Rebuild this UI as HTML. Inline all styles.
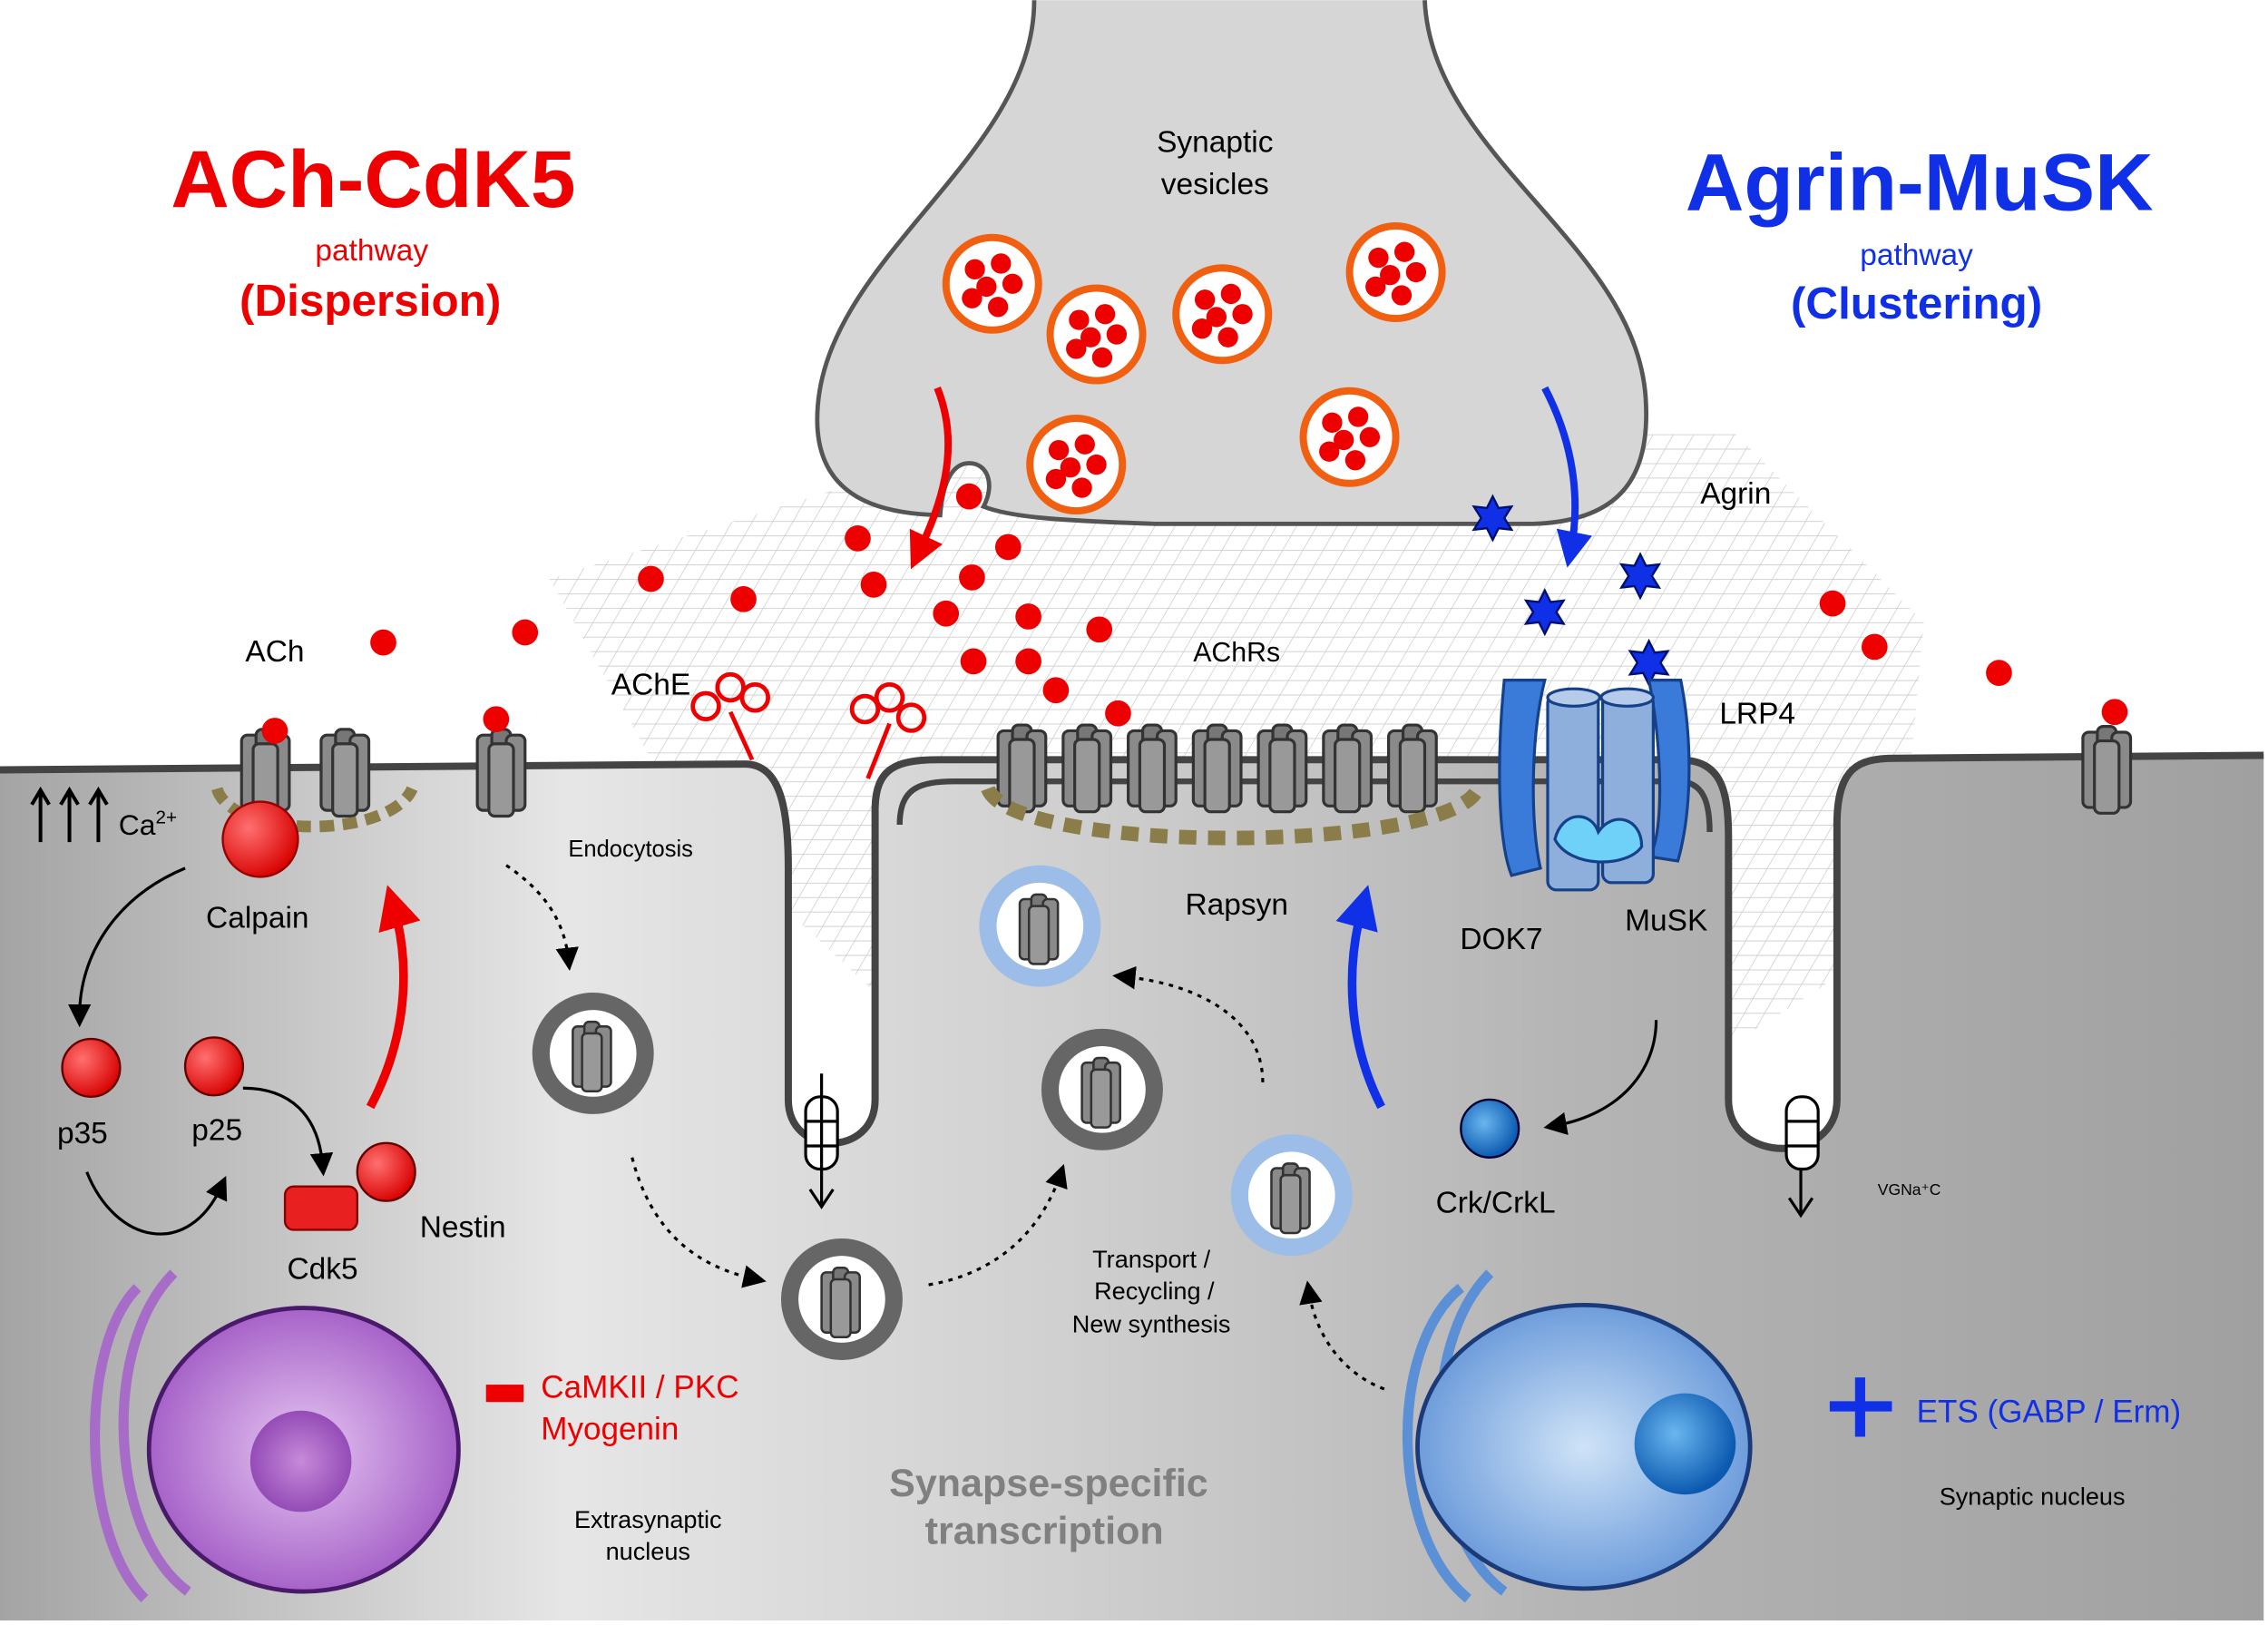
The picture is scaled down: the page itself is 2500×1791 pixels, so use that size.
<!DOCTYPE html>
<html><head><meta charset="utf-8"><style>
html,body{margin:0;padding:0;background:#fff}
svg{display:block}
text{font-family:"Liberation Sans",Arial,sans-serif}
</style></head><body>
<svg width="2500" height="1791" viewBox="0 0 1568 1123" xmlns="http://www.w3.org/2000/svg">
<defs>
<linearGradient id="cell" x1="0" y1="0" x2="1" y2="0">
<stop offset="0" stop-color="#a4a4a4"/><stop offset="0.25" stop-color="#e6e6e6"/><stop offset="0.45" stop-color="#d2d2d2"/><stop offset="0.7" stop-color="#b4b4b4"/><stop offset="1" stop-color="#a0a0a0"/>
</linearGradient>
<radialGradient id="red" cx="0.35" cy="0.35" r="0.7"><stop offset="0" stop-color="#ff7070"/><stop offset="1" stop-color="#d80000"/></radialGradient>
<radialGradient id="purp" cx="0.5" cy="0.5" r="0.6"><stop offset="0" stop-color="#e6c6f2"/><stop offset="1" stop-color="#9a4fc0"/></radialGradient>
<radialGradient id="purpIn" cx="0.5" cy="0.5" r="0.6"><stop offset="0" stop-color="#c78ad9"/><stop offset="1" stop-color="#8a3fb0"/></radialGradient>
<radialGradient id="blu" cx="0.5" cy="0.5" r="0.6"><stop offset="0" stop-color="#cfe3f7"/><stop offset="1" stop-color="#5b8fd6"/></radialGradient>
<radialGradient id="bluIn" cx="0.4" cy="0.4" r="0.6"><stop offset="0" stop-color="#6ab6f0"/><stop offset="1" stop-color="#0c5ab0"/></radialGradient>
<pattern id="grid" width="14" height="10" patternUnits="userSpaceOnUse" patternTransform="skewX(-30)">
<path d="M0 0H14M0 0V10" stroke="#bdbdbd" stroke-width="1.2" fill="none"/></pattern>
<g id="r">
<rect x="0" y="8" width="13" height="52" rx="4" fill="#8a8a8a" stroke="#333" stroke-width="2"/>
<rect x="10" y="4" width="13" height="56" rx="4" fill="#777" stroke="#333" stroke-width="2"/>
<rect x="20" y="8" width="13" height="52" rx="4" fill="#8a8a8a" stroke="#333" stroke-width="2"/>
<rect x="8" y="14" width="17" height="50" rx="4" fill="#999" stroke="#333" stroke-width="2"/>
</g>
<g id="vd" fill="#e00"><circle cx="-12" cy="-10" r="7"/><circle cx="6" cy="-14" r="7"/><circle cx="-4" cy="2" r="7"/><circle cx="14" cy="0" r="7"/><circle cx="-14" cy="10" r="7"/><circle cx="4" cy="16" r="7"/></g>
<path id="st" d="M0,-15 L4,-7 L13,-8 L8,0 L13,8 L4,7 L0,15 L-4,7 L-13,8 L-8,0 L-13,-8 L-4,-7Z" fill="#1030e8" stroke="#001070" stroke-width="1.5"/>
<marker id="ab" markerWidth="8" markerHeight="8" refX="4" refY="4" orient="auto"><path d="M0,0L8,4L0,8z" fill="#000"/></marker>
<marker id="ar" markerWidth="5" markerHeight="5" refX="2.5" refY="2.5" orient="auto"><path d="M0,0L5,2.5L0,5z" fill="#e00"/></marker>
<marker id="abl" markerWidth="5" markerHeight="5" refX="2.5" refY="2.5" orient="auto"><path d="M0,0L5,2.5L0,5z" fill="#1030e8"/></marker>
</defs>

<path d="M380,400 L700,300 L1200,300 L1330,430 L1310,650 L1200,720 L620,700 L470,560 Z" fill="url(#grid)" opacity="0.7"/>

<path d="M0,532 L515,528 C540,528 545,560 545,600 L545,760 C545,800 605,800 605,760 L605,560 C605,530 620,525 650,525 L1160,525 C1190,525 1195,545 1195,580 L1195,760 C1195,805 1270,805 1270,760 L1270,570 C1270,530 1285,524 1310,524 L1565,522 L1565,1120 L0,1120 Z" fill="url(#cell)"/>
<path d="M0,532 L515,528 C540,528 545,560 545,600 L545,760 C545,800 605,800 605,760 L605,560 C605,530 620,525 650,525 L1160,525 C1190,525 1195,545 1195,580 L1195,760 C1195,805 1270,805 1270,760 L1270,570 C1270,530 1285,524 1310,524 L1565,522" fill="none" stroke="#444" stroke-width="5"/>
<path d="M622,570 C622,545 635,540 660,540 L1160,540 C1178,540 1182,555 1182,575" fill="none" stroke="#444" stroke-width="4"/>

<path d="M715,0 C715,110 565,180 565,290 C565,345 610,355 650,356 C652,330 660,320 670,320 C683,320 688,335 680,350 C700,358 740,360 800,362 L1060,362 C1120,360 1140,330 1138,280 C1135,170 990,110 985,0" fill="#d6d6d6" stroke="#555" stroke-width="3"/>

<g stroke="#f06010" stroke-width="5" fill="#fff">
<circle cx="686" cy="196" r="32"/><circle cx="758" cy="231" r="32"/><circle cx="845" cy="217" r="32"/><circle cx="965" cy="188" r="32"/><circle cx="744" cy="321" r="32"/><circle cx="933" cy="302" r="32"/>
</g>
<use href="#vd" x="686" y="196"/><use href="#vd" x="758" y="231"/><use href="#vd" x="845" y="217"/><use href="#vd" x="965" y="188"/><use href="#vd" x="744" y="321"/><use href="#vd" x="933" y="302"/>

<g fill="#e00">
<circle cx="670" cy="343" r="9"/><circle cx="593" cy="372" r="9"/><circle cx="697" cy="378" r="9"/><circle cx="450" cy="400" r="9"/><circle cx="514" cy="414" r="9"/><circle cx="604" cy="404" r="9"/><circle cx="672" cy="399" r="9"/><circle cx="654" cy="424" r="9"/><circle cx="711" cy="426" r="9"/><circle cx="760" cy="435" r="9"/><circle cx="673" cy="457" r="9"/><circle cx="711" cy="457" r="9"/><circle cx="730" cy="477" r="9"/><circle cx="773" cy="493" r="9"/><circle cx="265" cy="444" r="9"/><circle cx="363" cy="437" r="9"/><circle cx="1267" cy="417" r="9"/><circle cx="1296" cy="447" r="9"/><circle cx="1382" cy="465" r="9"/>
</g>

<use href="#st" x="1032" y="358"/><use href="#st" x="1068" y="423"/><use href="#st" x="1134" y="398"/><use href="#st" x="1140" y="458"/>

<path d="M648,268 C665,310 650,350 635,382" fill="none" stroke="#e00" stroke-width="5" marker-end="url(#ar)"/>
<path d="M1068,268 C1090,310 1092,350 1086,380" fill="none" stroke="#1030e8" stroke-width="5" marker-end="url(#abl)"/>

<g fill="none" stroke="#e00" stroke-width="3">
<path d="M520,525 L505,492"/><circle cx="488" cy="488" r="9"/><circle cx="505" cy="475" r="9"/><circle cx="522" cy="482" r="9"/>
<path d="M600,538 L615,500"/><circle cx="598" cy="490" r="9"/><circle cx="615" cy="482" r="9"/><circle cx="630" cy="496" r="9"/>
</g>

<use href="#r" x="167" y="500"/><use href="#r" x="222" y="500"/><use href="#r" x="330" y="500"/><use href="#r" x="1440" y="498"/>
<use href="#r" x="690" y="497"/><use href="#r" x="735" y="497"/><use href="#r" x="780" y="497"/><use href="#r" x="825" y="497"/><use href="#r" x="870" y="497"/><use href="#r" x="915" y="497"/><use href="#r" x="960" y="497"/>
<circle cx="190" cy="505" r="9" fill="#e00"/><circle cx="343" cy="497" r="9" fill="#e00"/><circle cx="1462" cy="492" r="9" fill="#e00"/>

<path d="M150,545 C160,580 270,580 285,545" fill="none" stroke="#8b7d4a" stroke-width="8" stroke-dasharray="10,6"/>
<path d="M683,545 C700,590 990,590 1020,548" fill="none" stroke="#8b7d4a" stroke-width="10" stroke-dasharray="12,8"/>

<path d="M1040,470 C1035,520 1035,580 1045,605 L1065,600 C1058,570 1058,510 1068,470 Z" fill="#3a7ad8" stroke="#15408a" stroke-width="2"/>
<path d="M1140,470 C1150,520 1150,580 1140,592 L1160,595 C1170,560 1170,510 1162,470 Z" fill="#3a7ad8" stroke="#15408a" stroke-width="2"/>
<rect x="1070" y="480" width="35" height="135" rx="6" fill="#8eaedc" stroke="#15408a" stroke-width="2"/>
<rect x="1108" y="480" width="35" height="130" rx="6" fill="#8eaedc" stroke="#15408a" stroke-width="2"/>
<ellipse cx="1088" cy="482" rx="18" ry="6" fill="#b6cbea" stroke="#15408a" stroke-width="2"/>
<ellipse cx="1125" cy="482" rx="18" ry="6" fill="#b6cbea" stroke="#15408a" stroke-width="2"/>
<path d="M1075,580 C1080,560 1100,560 1105,575 C1115,560 1135,565 1135,585 C1125,600 1085,600 1075,580Z" fill="#6fd0f8" stroke="#15408a" stroke-width="2"/>

<circle cx="180" cy="580" r="26" fill="url(#red)" stroke="#900" stroke-width="1.5"/>
<circle cx="63" cy="738" r="20" fill="url(#red)" stroke="#600" stroke-width="1.5"/>
<circle cx="148" cy="737" r="20" fill="url(#red)" stroke="#600" stroke-width="1.5"/>
<circle cx="267" cy="810" r="20" fill="url(#red)" stroke="#600" stroke-width="1.5"/>
<rect x="197" y="820" width="50" height="30" rx="6" fill="#e82020" stroke="#800" stroke-width="1.5"/>
<circle cx="1030" cy="780" r="20" fill="url(#bluIn)" stroke="#003" stroke-width="1.5"/>

<g fill="none" stroke="#000" stroke-width="2">
<path d="M128,600 C80,620 55,660 55,702" marker-end="url(#ab)"/>
<path d="M168,752 C200,752 220,770 223,805" marker-end="url(#ab)"/>
<path d="M60,810 C80,860 130,870 153,820" marker-end="url(#ab)"/>
<path d="M1145,705 C1145,740 1120,770 1075,778" marker-end="url(#ab)"/>
</g>
<g fill="none" stroke="#000" stroke-width="2" stroke-dasharray="3,4">
<path d="M350,598 C375,615 390,635 393,663" marker-end="url(#ab)"/>
<path d="M437,800 C450,850 480,875 522,884" marker-end="url(#ab)"/>
<path d="M642,888 C690,880 720,850 733,812" marker-end="url(#ab)"/>
<path d="M873,748 C873,705 830,680 777,675" marker-end="url(#ab)"/>
<path d="M957,960 C930,950 910,925 905,893" marker-end="url(#ab)"/>
</g>
<path d="M256,765 C280,720 285,670 272,626" fill="none" stroke="#e00" stroke-width="6" marker-end="url(#ar)"/>
<path d="M955,765 C932,720 930,670 942,626" fill="none" stroke="#1030e8" stroke-width="6" marker-end="url(#abl)"/>

<g stroke="#000" stroke-width="2" fill="#fff">
<rect x="557" y="758" width="22" height="50" rx="10"/><path d="M557,775H579M557,792H579" fill="none"/>
<rect x="1235" y="758" width="22" height="50" rx="10"/><path d="M1235,775H1257M1235,792H1257" fill="none"/>
<path d="M568,742V832M560,822L568,834L576,822M1245,808V838M1237,828L1245,840L1253,828" fill="none"/>
</g>

<g fill="#fff">
<circle cx="410" cy="728" r="36" stroke="#666" stroke-width="12"/>
<circle cx="762" cy="753" r="36" stroke="#666" stroke-width="12"/>
<circle cx="582" cy="898" r="36" stroke="#666" stroke-width="12"/>
<circle cx="719" cy="640" r="36" stroke="#9bbde8" stroke-width="12"/>
<circle cx="893" cy="826" r="36" stroke="#9bbde8" stroke-width="12"/>
</g>
<use href="#r" transform="translate(396,703) scale(0.8)"/>
<use href="#r" transform="translate(748,728) scale(0.8)"/>
<use href="#r" transform="translate(568,873) scale(0.8)"/>
<use href="#r" transform="translate(705,615) scale(0.8)"/>
<use href="#r" transform="translate(879,801) scale(0.8)"/>

<g fill="none" stroke-width="7">
<path d="M95,890 C55,930 55,1060 100,1105" stroke="#a66cc8"/>
<path d="M120,880 C70,930 75,1060 130,1100" stroke="#a66cc8"/>
<path d="M1010,890 C960,930 960,1060 1015,1105" stroke="#5b8fd6"/>
<path d="M1030,880 C980,930 985,1060 1040,1100" stroke="#5b8fd6"/>
</g>
<ellipse cx="210" cy="1002" rx="107" ry="98" fill="url(#purp)" stroke="#4a1a6a" stroke-width="3"/>
<circle cx="208" cy="1010" r="35" fill="url(#purpIn)"/>
<ellipse cx="1095" cy="1000" rx="115" ry="98" fill="url(#blu)" stroke="#1a3a7a" stroke-width="3"/>
<circle cx="1165" cy="998" r="35" fill="url(#bluIn)"/>
<rect x="336" y="957" width="26" height="12" fill="#e00"/>
<path d="M1265,972H1308M1286,952V993" stroke="#1030e8" stroke-width="7"/>

<g text-anchor="middle">
<text x="258" y="143" font-size="56" font-weight="bold" fill="#e00">ACh-CdK5</text>
<text x="257" y="180" font-size="21" fill="#e00">pathway</text>
<text x="256" y="218" font-size="31" font-weight="bold" fill="#e00">(Dispersion)</text>
<text x="1327" y="145" font-size="56" font-weight="bold" fill="#1030e8">Agrin-MuSK</text>
<text x="1325" y="183" font-size="21" fill="#1030e8">pathway</text>
<text x="1325" y="220" font-size="31" font-weight="bold" fill="#1030e8">(Clustering)</text>
<text x="840" y="105" font-size="21">Synaptic</text>
<text x="840" y="134" font-size="21">vesicles</text>
<text x="1200" y="348" font-size="21">Agrin</text>
<text x="190" y="457" font-size="21">ACh</text>
<text x="450" y="480" font-size="21">AChE</text>
<text x="855" y="457" font-size="19">AChRs</text>
<text x="1215" y="500" font-size="21">LRP4</text>
<text x="436" y="592" font-size="16">Endocytosis</text>
<text x="178" y="641" font-size="21">Calpain</text>
<text x="855" y="632" font-size="21">Rapsyn</text>
<text x="1038" y="656" font-size="21">DOK7</text>
<text x="1152" y="643" font-size="21">MuSK</text>
<text x="57" y="790" font-size="21">p35</text>
<text x="150" y="788" font-size="21">p25</text>
<text x="320" y="855" font-size="21">Nestin</text>
<text x="223" y="884" font-size="21">Cdk5</text>
<text x="1034" y="838" font-size="21">Crk/CrkL</text>
<text x="1320" y="826" font-size="11">VGNa⁺C</text>
<text x="796" y="876" font-size="17">Transport  /</text>
<text x="798" y="898" font-size="17">Recycling  /</text>
<text x="796" y="921" font-size="17">New synthesis</text>
<text x="725" y="1034" font-size="27" font-weight="bold" fill="#808080">Synapse-specific</text>
<text x="722" y="1067" font-size="27" font-weight="bold" fill="#808080">transcription</text>
<text x="448" y="1056" font-size="17">Extrasynaptic</text>
<text x="448" y="1078" font-size="17">nucleus</text>
<text x="1405" y="1040" font-size="17">Synaptic  nucleus</text>
</g>
<text x="374" y="966" font-size="22" fill="#e00">CaMKII / PKC</text>
<text x="374" y="995" font-size="22" fill="#e00">Myogenin</text>
<text x="1325" y="983" font-size="22" fill="#1030e8">ETS (GABP / Erm)</text>
<text x="82" y="577" font-size="20">Ca<tspan font-size="13" dy="-8">2+</tspan></text>
<g stroke="#000" stroke-width="2.5" fill="none">
<path d="M28,582V548M22,556L28,546L34,556M48,582V548M42,556L48,546L54,556M68,582V548M62,556L68,546L74,556"/>
</g>
</svg>
</body></html>
